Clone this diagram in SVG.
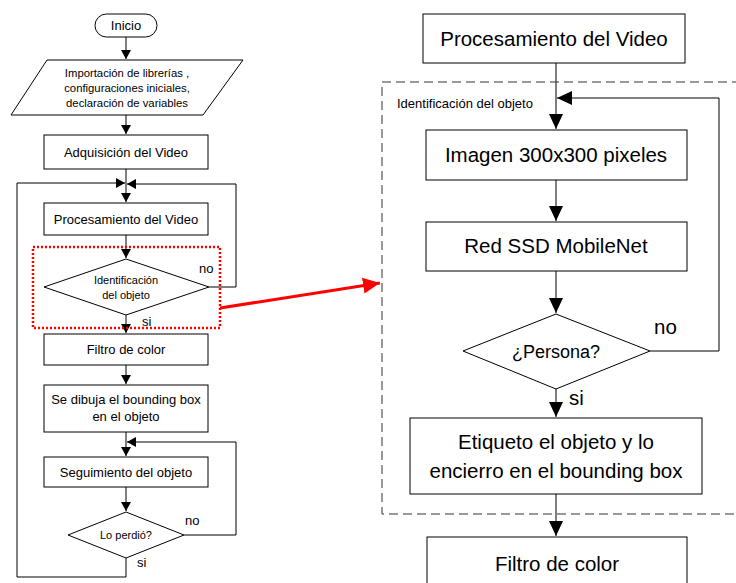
<svg xmlns="http://www.w3.org/2000/svg" width="736" height="583" viewBox="0 0 736 583">
<defs>
<style>
.n{fill:#fff;stroke:#000;stroke-width:1}
.c{fill:none;stroke:#000;stroke-width:1}
text{font-family:"Liberation Sans",Arial,sans-serif;fill:#000;text-anchor:middle}
.s{font-size:13px}
.t{font-size:11.3px}
.d{font-size:11px}
.b{font-size:20.5px}
.l{text-anchor:start}
</style>
<marker id="a" markerUnits="userSpaceOnUse" markerWidth="10" markerHeight="10" refX="9" refY="5" orient="auto"><path d="M0,0L9,5L0,10Z" fill="#000"/></marker>
<marker id="A" markerUnits="userSpaceOnUse" markerWidth="16" markerHeight="16" refX="15" refY="8" orient="auto"><path d="M0,1L15,8L0,15Z" fill="#000"/></marker>
<marker id="r" markerUnits="userSpaceOnUse" markerWidth="18" markerHeight="18" refX="17" refY="9" orient="auto"><path d="M0,1L17,9L0,17Z" fill="#f00"/></marker>
</defs>
<rect width="736" height="583" fill="#fff"/>
<g id="connectors">
<path class="c" d="M126,37V59" marker-end="url(#a)"/>
<path class="c" d="M126,115V134" marker-end="url(#a)"/>
<path class="c" d="M126,169V202" marker-end="url(#a)"/>
<path class="c" d="M126,577H17V183H125" marker-end="url(#a)"/>
<path class="c" d="M209,287H236V184H127" marker-end="url(#a)"/>
<path class="c" d="M126,235V258" marker-end="url(#a)"/>
<path class="c" d="M126,315V333" marker-end="url(#a)"/>
<path class="c" d="M126,365V384" marker-end="url(#a)"/>
<path class="c" d="M126,432V456" marker-end="url(#a)"/>
<path class="c" d="M184,535H236V442H127" marker-end="url(#a)"/>
<path class="c" d="M126,487V511" marker-end="url(#a)"/>
<path class="c" d="M126,558V577"/>
<path d="M220,308L380,283" fill="none" stroke="#f00" stroke-width="3" marker-end="url(#r)"/>
<path class="c" d="M556,63V129" marker-end="url(#A)"/>
<path class="c" d="M650,351H719V98H557" marker-end="url(#A)"/>
<path class="c" d="M556,180V221" marker-end="url(#A)"/>
<path class="c" d="M556,271V313" marker-end="url(#A)"/>
<path class="c" d="M556,389V417" marker-end="url(#A)"/>
<path class="c" d="M556,494V536" marker-end="url(#A)"/>
</g>
<g id="group-identificacion">
<rect x="382" y="82" width="380" height="432" fill="none" stroke="#333" stroke-width="1" stroke-dasharray="9,5"/>
<text class="l" x="397" y="108" style="font-size:13px">Identificación del objeto</text>
</g>
<g id="highlight">
<rect x="33" y="247" width="187" height="81" fill="none" stroke="#f00" stroke-width="2.5" stroke-dasharray="2,2"/>
</g>
<g id="inicio"><rect class="n" x="95" y="14" width="62" height="23" rx="11.5"/><text class="s" x="126" y="30">Inicio</text></g>
<g id="importacion"><path class="n" d="M47,60H243L203,115H11Z"/><text class="t" x="127" y="77">Importación de librerías ,</text><text class="t" x="127" y="92">configuraciones iniciales,</text><text class="t" x="127" y="107">declaración de variables</text></g>
<g id="adquisicion"><rect class="n" x="44" y="135" width="164" height="34"/><text class="s" x="126" y="157">Adquisición del Video</text></g>
<g id="procesamiento-l"><rect class="n" x="44" y="203" width="164" height="32"/><text class="s" x="126" y="224">Procesamiento del Video</text></g>
<g id="identificacion-l"><path class="n" d="M126,259L209,287L126,315L44,287Z"/><text class="d" x="126" y="284">Identificación</text><text class="d" x="126" y="299">del objeto</text><text class="s l" x="199" y="273">no</text><text class="s l" x="142" y="326">si</text></g>
<g id="filtro-l"><rect class="n" x="44" y="334" width="164" height="31"/><text class="s" x="126" y="354">Filtro de color</text></g>
<g id="dibuja"><rect class="n" x="44" y="385" width="164" height="47"/><text class="s" x="126" y="404">Se dibuja el bounding box</text><text class="s" x="126" y="421">en el objeto</text></g>
<g id="seguimiento"><rect class="n" x="44" y="457" width="164" height="30"/><text class="s" x="126" y="477">Seguimiento del objeto</text></g>
<g id="perdio"><path class="n" d="M126,512L184,535L126,558L68,535Z"/><text class="d" x="126" y="539">Lo perdió?</text><text class="s l" x="185" y="525">no</text><text class="s l" x="137" y="567">si</text></g>
<g id="procesamiento-r"><rect class="n" x="423" y="14" width="262" height="49"/><text class="b" x="554" y="46">Procesamiento del Video</text></g>
<g id="imagen"><rect class="n" x="426" y="130" width="261" height="50"/><text class="b" x="556" y="162">Imagen 300x300 pixeles</text></g>
<g id="red"><rect class="n" x="426" y="222" width="261" height="49"/><text class="b" x="556" y="253">Red SSD MobileNet</text></g>
<g id="persona"><path class="n" d="M556,314L650,351L556,389L463,351Z"/><text class="b" x="556" y="358" style="font-size:18px">¿Persona?</text><text class="b l" x="654" y="334">no</text><text class="b l" x="569" y="405">si</text></g>
<g id="etiqueto"><rect class="n" x="410" y="418" width="292" height="76"/><text class="b" x="556" y="449">Etiqueto el objeto y lo</text><text class="b" x="556" y="478">encierro en el bounding box</text></g>
<g id="filtro-r"><rect class="n" x="427" y="537" width="260" height="60"/><text class="b" x="557" y="571">Filtro de color</text></g>
</svg>
